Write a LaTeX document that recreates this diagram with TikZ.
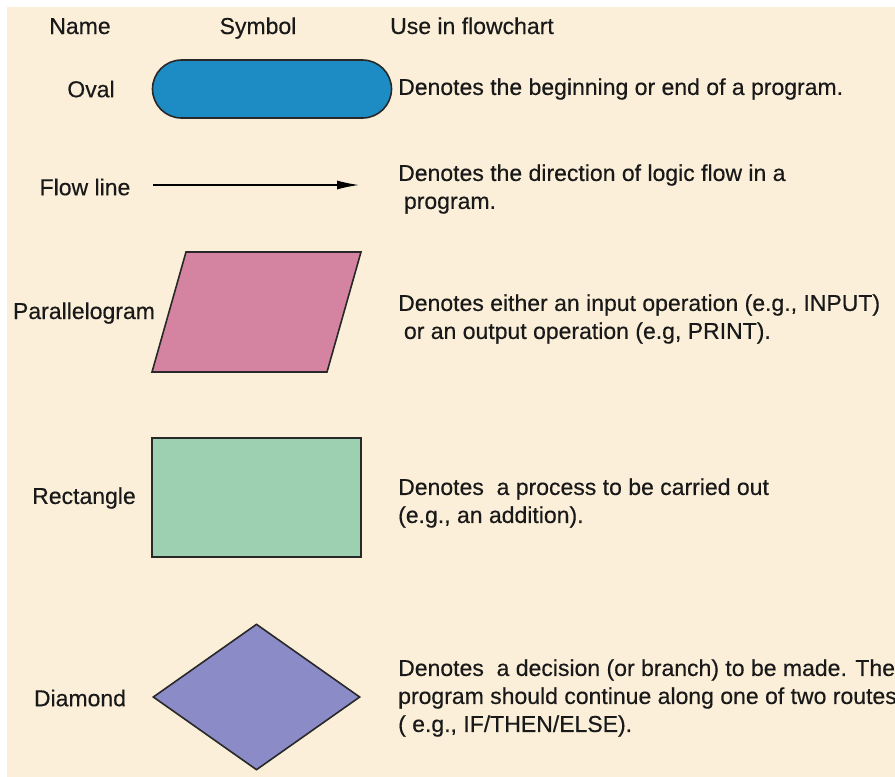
\documentclass[tikz,border=0pt]{standalone}
\usepackage{fontspec}
\setmainfont[FakeBold=0.4]{Liberation Sans}
\usepackage{xcolor}
\usetikzlibrary{arrows.meta,calc,positioning,shapes.geometric}

\definecolor{bgbeige}{RGB}{251,239,217}
\definecolor{ovalblue}{RGB}{30,140,196}
\definecolor{parapink}{RGB}{212,132,160}
\definecolor{rectgreen}{RGB}{157,208,176}
\definecolor{diapurple}{RGB}{139,139,200}
\definecolor{edgedark}{RGB}{40,40,40}
\definecolor{inkdark}{RGB}{25,25,25}

\tikzset{
	lbl/.style = {font=\fontsize{23}{28}\selectfont, text=inkdark, inner sep=0pt},
	desc/.style = {lbl, anchor=west, align=left},
	symb/.style = {draw=edgedark, line width=1.6pt, inner sep=0pt}
}

\begin{document}
\begin{tikzpicture}[x=1pt,y=-1pt]
		\useasboundingbox (0,0) rectangle (895,777);
		\fill[white] (0,0) rectangle (895,777);
		\fill[bgbeige] (7,7) rectangle (896,778);
		
		% headings
		\node[lbl,anchor=base] (hname) at (80,34) {Name};
		\node[lbl,anchor=base] (hsymb) at (258,34) {Symbol};
		\node[lbl,anchor=base west] (huse) at (390,34) {Use in flowchart};
		
		% oval
		\node[lbl] (noval) at (91,89) {Oval};
		\node[symb,fill=ovalblue,minimum width=239pt,minimum height=58pt,rounded corners=29pt] (soval) at (272,89) {};
		\node[desc] (doval) at (398,89) {Denotes the beginning or end of a program.};
		
		% flow line
		\node[lbl] (nflow) at (85,187) {Flow line};
		\coordinate (flowa) at (153,185);
		\coordinate (flowb) at (359,185);
		\draw[line width=1.3pt,-{Latex[length=22pt,width=9pt]}] (flowa) -- (flowb);
		\node[desc] (dflow) at (398,189) {Denotes the direction of logic flow in a\\\hspace{0.25em}program.};
		
		% parallelogram
		\node[lbl,anchor=base] (npara) at (84,319) {Parallelogram};
		\draw[symb,fill=parapink] (186,252) -- (361,252) -- (327,372) -- (152,372) -- cycle;
		\node[desc] (dpara) at (398,319) {Denotes either an input operation (e.g., INPUT)\\\hspace{0.25em}or an output operation (e.g, PRINT).};
		
		% rectangle
		\node[lbl] (nrect) at (84,498) {Rectangle};
		\node[symb,fill=rectgreen,minimum width=209pt,minimum height=119pt] (srect) at (256.5,497.5) {};
		\node[desc] (drect) at (398,503) {Denotes\ \ a process to be carried out\\(e.g., an addition).};
		
		% diamond
		\node[lbl] (ndia) at (80,698) {Diamond};
		\node[symb,fill=diapurple,diamond,minimum width=207pt,minimum height=146pt] (sdia) at (256.5,697) {};
		\node[desc] (ddia) at (398,698) {Denotes\ \ a decision (or branch) to be made. The\\program should continue along one of two routes\\( e.g., IF/THEN/ELSE).};
\end{tikzpicture}
\end{document}
